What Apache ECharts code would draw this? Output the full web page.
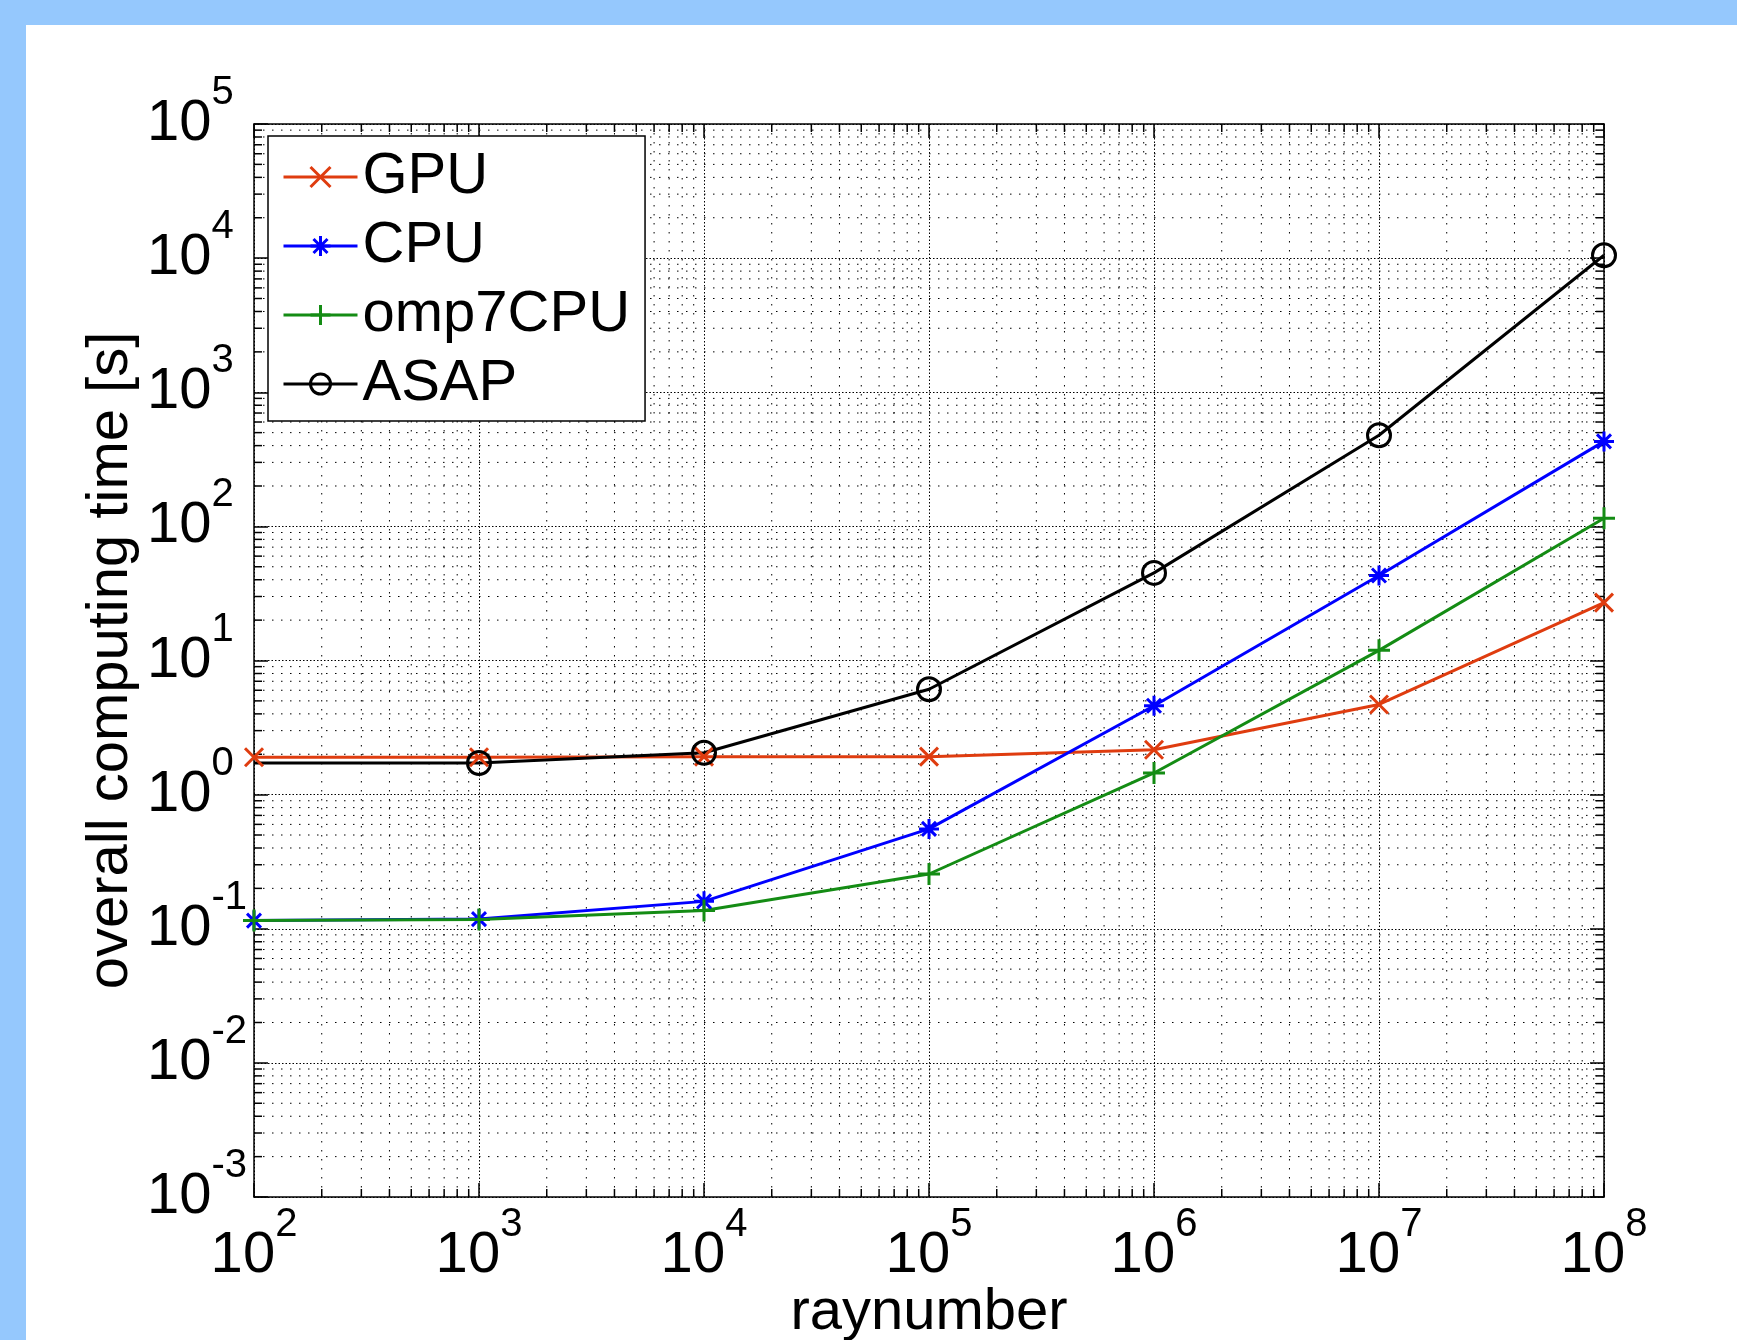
<!DOCTYPE html>
<html>
<head>
<meta charset="utf-8">
<script src="https://cdn.jsdelivr.net/npm/echarts@6/dist/echarts.min.js"></script>
<style>
html, body { margin: 0; padding: 0; width: 1737px; height: 1340px; background: #95c8fd; overflow: hidden; }
#chart { position: absolute; left: 26px; top: 25px; width: 1711px; height: 1315px; background: #fff; }
</style>
</head>
<body>
<div id="chart"></div>
<script>
// data
const rayNumbers = [1e2, 1e3, 1e4, 1e5, 1e6, 1e7, 1e8];
const gpuTime = [1.9, 1.9, 1.92, 1.92, 2.16, 4.7, 27];
const cpuTime = [0.115, 0.118, 0.16, 0.555, 4.6, 43, 430];
const omp7Time = [0.115, 0.117, 0.137, 0.256, 1.45, 11.9, 115];
const asapTime = [1.72, 1.72, 2.05, 6.1, 45, 478, 10500];

const xTickExponents = ['2', '3', '4', '5', '6', '7', '8'];
const yTickExponents = ['-3', '-2', '-1', '0', '1', '2', '3', '4', '5'];

const FONT = 'Liberation Sans, Arial, Helvetica, sans-serif';

// minor grid / tick positions (2..9 in every decade)
const minorItems = [];
for (let e = 2; e < 8; e++) {
    for (let m = 2; m <= 9; m++) minorItems.push([m * Math.pow(10, e), 1, 0]);
}
for (let e = -3; e < 5; e++) {
    for (let m = 2; m <= 9; m++) minorItems.push([100, m * Math.pow(10, e), 1]);
}

// "10" plus a raised exponent; the exponent gets bottom padding to push it up
const richPow = {
    b: { fontSize: 58, lineHeight: 58, color: '#000', fontFamily: FONT },
    s: { fontSize: 40, lineHeight: 40, padding: [0, 0, 62, 0], color: '#000', fontFamily: FONT }
};

function powLabel(list, offset) {
    return function (v) {
        const e = Math.round(Math.log10(v));
        return '{b|10}{s|' + list[e - offset] + '}';
    };
}

function lineSeries(name, values, color, symbol, size, hideFirst) {
    return {
        name: name,
        type: 'line',
        data: rayNumbers.map((x, i) => (hideFirst && i === 0)
            ? { value: [x, values[i]], symbol: 'none' }
            : [x, values[i]]),
        symbol: symbol,
        symbolSize: size,
        clip: false,
        z: 3,
        lineStyle: { color: color, width: 3 },
        itemStyle: { color: 'transparent', borderColor: color, borderWidth: 3 },
        emphasis: { disabled: true }
    };
}

const tickStyle = { inside: true, length: 14, lineStyle: { color: '#000', width: 1.5 } };
const axisLineStyle = { show: true, lineStyle: { color: '#000', width: 1.5 } };

const chart = echarts.init(document.getElementById('chart'));
chart.setOption({
    animation: false,
    backgroundColor: '#fff',
    textStyle: { fontFamily: FONT },
    grid: { left: 228, top: 99, width: 1350, height: 1073, containLabel: false, outerBoundsMode: 'none' },
    legend: {
        data: ['GPU', 'CPU', 'omp7CPU', 'ASAP'],
        orient: 'vertical',
        left: 242,
        top: 111,
        itemWidth: 74,
        itemHeight: 25,
        itemGap: 11,
        padding: [12, 15, 8, 14],
        backgroundColor: '#fff',
        borderColor: '#000',
        borderWidth: 1.5,
        borderRadius: 0,
        selectedMode: false,
        textStyle: { fontSize: 58, lineHeight: 58, color: '#000', fontFamily: FONT },
        itemStyle: { borderWidth: 3 },
        lineStyle: { width: 3 }
    },
    xAxis: [{
        type: 'log', logBase: 10, min: 1e2, max: 1e8,
        name: 'raynumber', nameLocation: 'middle', nameGap: 87, nameMoveOverlap: false,
        nameTextStyle: { fontSize: 58, color: '#000', fontFamily: FONT },
        axisLine: axisLineStyle, axisTick: tickStyle,
        axisLabel: { margin: 30, formatter: powLabel(xTickExponents, 2), rich: richPow },
        splitLine: { show: true, lineStyle: { color: '#000', width: 1, type: [1.5, 2] } }
    }, {
        type: 'log', logBase: 10, min: 1e2, max: 1e8, position: 'top',
        axisLine: axisLineStyle, axisTick: tickStyle,
        axisLabel: { show: false }, splitLine: { show: false }
    }],
    yAxis: [{
        type: 'log', logBase: 10, min: 1e-3, max: 1e5,
        name: 'overall computing time [s]', nameLocation: 'middle', nameGap: 114, nameMoveOverlap: false,
        nameTextStyle: { fontSize: 58, color: '#000', fontFamily: FONT },
        axisLine: axisLineStyle, axisTick: tickStyle,
        axisLabel: { margin: 107, align: 'left', formatter: powLabel(yTickExponents, -3), rich: richPow },
        splitLine: { show: true, lineStyle: { color: '#000', width: 1, type: [1.5, 2] } }
    }, {
        type: 'log', logBase: 10, min: 1e-3, max: 1e5, position: 'right',
        axisLine: axisLineStyle, axisTick: tickStyle,
        axisLabel: { show: false }, splitLine: { show: false }
    }],
    series: [
        {
            // minor dotted grid lines and minor ticks on all four sides
            name: 'minor',
            type: 'custom',
            silent: true,
            z: 1,
            clip: false,
            dimensions: ['x', 'y', 'dir'],
            encode: { x: 0, y: 1 },
            data: minorItems,
            renderItem: function (params, api) {
                const cs = params.coordSys;
                const dir = api.value(2);
                const p = api.coord([api.value(0), api.value(1)]);
                const dot = { stroke: '#000', lineWidth: 1, lineDash: [1.5, 7.5] };
                const tick = { stroke: '#000', lineWidth: 1.5 };
                let segs;
                if (dir === 0) {
                    const x = p[0], y0 = cs.y, y1 = cs.y + cs.height;
                    segs = [[x, y0, x, y1, dot], [x, y1, x, y1 - 8, tick], [x, y0, x, y0 + 8, tick]];
                } else {
                    const y = p[1], x0 = cs.x, x1 = cs.x + cs.width;
                    segs = [[x0, y, x1, y, dot], [x0, y, x0 + 8, y, tick], [x1, y, x1 - 8, y, tick]];
                }
                return {
                    type: 'group',
                    children: segs.map(s => ({
                        type: 'line',
                        shape: { x1: s[0], y1: s[1], x2: s[2], y2: s[3] },
                        style: s[4]
                    }))
                };
            }
        },
        lineSeries('GPU', gpuTime, '#df3c0f', 'path://M0,0L10,10M10,0L0,10', 18),
        lineSeries('CPU', cpuTime, '#0000ff', 'path://M5,0L5,10M0,5L10,5M1.5,1.5L8.5,8.5M8.5,1.5L1.5,8.5', 20),
        lineSeries('omp7CPU', omp7Time, '#148c14', 'path://M5,0L5,10M0,5L10,5', 22),
        lineSeries('ASAP', asapTime, '#000000', 'circle', 23, true)
    ]
});
</script>
</body>
</html>
